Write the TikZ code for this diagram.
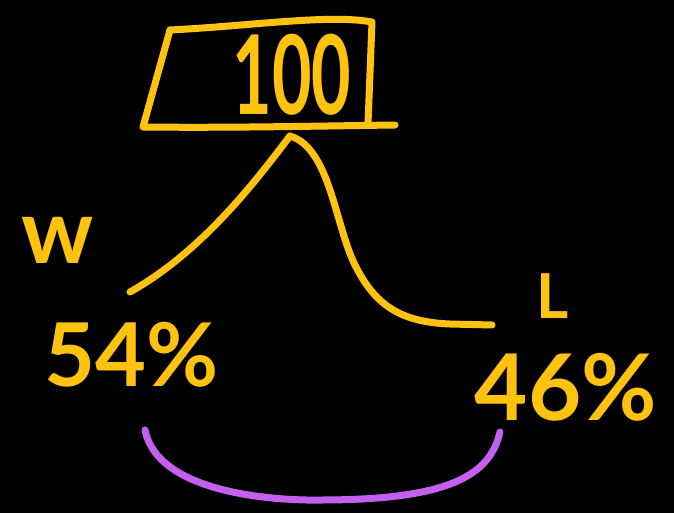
\documentclass[tikz,border=0pt]{standalone}
\usepackage{fontspec}
\setmainfont{Lato}
\definecolor{pen}{HTML}{FFC20E}
\definecolor{arcpen}{HTML}{C360F0}
\tikzset{
  stroke/.style={draw=pen,line width=7pt,line cap=round,line join=round},
  arcstroke/.style={draw=arcpen,line width=7pt,line cap=round},
  hand/.style={text=pen,inner sep=0pt,anchor=center}
}
\begin{document}
\begin{tikzpicture}[x=1pt,y=-1pt]
\fill[black] (0,0) rectangle (674,513);
\useasboundingbox (0,0) rectangle (674,513);
% box
\coordinate (tl) at (170,30);
\coordinate (tr) at (372,22);
\coordinate (br) at (368,124);
\coordinate (bl) at (143,127);
\coordinate (be) at (395,125);
\draw[stroke] (tl) .. controls (250,26) and (330,14) .. (tr) -- (br);
\draw[stroke] (tl) -- (bl) .. controls (230,128) and (320,126) .. (be);
\node[hand,font=\bfseries\fontsize{110}{110}\selectfont,xscale=0.62,transform shape] (hundred) at (292,75) {100};
% branches
\coordinate (top) at (290,136);
\coordinate (wend) at (130,292);
\coordinate (lend) at (492,325);
\draw[stroke] (top) .. controls (260,175) and (205,250) .. (wend);
\draw[stroke] (top) .. controls (330,148) and (335,225) .. (355,265)
   .. controls (375,305) and (400,322) .. (450,324) -- (lend);
% labels
\node[hand,font=\bfseries\fontsize{90}{90}\selectfont] (w) at (58,240) {w};
\node[hand,font=\bfseries\fontsize{62}{62}\selectfont] (l) at (553,296) {L};
\node[hand,font=\bfseries\fontsize{88}{88}\selectfont] (p54) at (132,355) {54\%};
\node[hand,font=\bfseries\fontsize{92}{92}\selectfont] (p46) at (566,387) {46\%};
% arc
\coordinate (as) at (145,430);
\coordinate (ae) at (500,432);
\draw[arcstroke] (as) .. controls (160,505) and (320,500) .. (320,500)
   .. controls (450,500) and (490,475) .. (ae);
\end{tikzpicture}
\end{document}
